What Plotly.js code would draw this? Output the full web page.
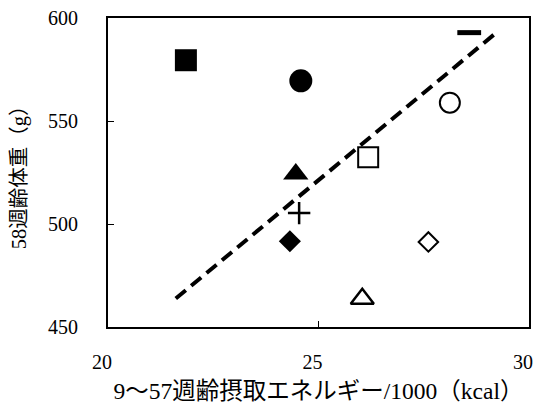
<!DOCTYPE html>
<html>
<head>
<meta charset="utf-8">
<script src="https://cdn.plot.ly/plotly-3.0.1.min.js"></script>
<style>html,body{margin:0;padding:0;background:#fff;}#chart{width:536px;height:405px;}</style>
</head>
<body>
<div id="chart"></div>
<script>
// Data points (x: intake energy / 1000 kcal, y: body weight at 58 weeks, g)
const xValues = [21.85, 24.58, 24.46, 24.54, 24.32, 26.18, 26.04, 27.61, 28.12, 28.58];
const yValues = [579.5, 569.5, 524.3, 505.3, 491.6, 532.4, 463.7, 491.3, 558.9, 592.9];
const symbols = ['square', 'circle', 'triangle-up', 'cross-thin-open', 'diamond',
                 'square-open', 'triangle-up-open', 'diamond-open', 'circle-open', 'line-ew-open'];
// Trend line endpoints
const trendX = [21.61, 29.23];
const trendY = [463.8, 593.0];
const xTicks = [20, 25, 30];
const yTicks = [450, 500, 550, 600];

const sizeMap = {
  'square': 22, 'circle': 23, 'triangle-up': 22, 'cross-thin-open': 16, 'diamond': 17,
  'square-open': 20, 'triangle-up-open': 20, 'diamond-open': 15, 'circle-open': 20, 'line-ew-open': 17
};
const lineMap = {
  'square': 0, 'circle': 0, 'triangle-up': 0, 'cross-thin-open': 2.5, 'diamond': 0,
  'square-open': 2, 'triangle-up-open': 2.5, 'diamond-open': 2, 'circle-open': 2, 'line-ew-open': 5
};

const traces = [{
  x: trendX, y: trendY, mode: 'lines', type: 'scatter',
  line: {color: '#000', width: 4, dash: '13px,7px'}, hoverinfo: 'skip'
}];
xValues.forEach((xv, i) => {
  traces.push({
    x: [xv], y: [yValues[i]], mode: 'markers', type: 'scatter',
    marker: {symbol: symbols[i], size: sizeMap[symbols[i]], color: '#000',
             line: {color: '#000', width: lineMap[symbols[i]]}}
  });
});

const fontFam = "'Liberation Serif', 'Noto Sans CJK JP', serif";
const layout = {
  width: 536, height: 405,
  margin: {l: 108, r: 7, t: 18, b: 78},
  paper_bgcolor: '#fff', plot_bgcolor: '#fff',
  showlegend: false,
  font: {family: fontFam, color: '#000', size: 20},
  xaxis: {
    range: [20, 30], tickvals: xTicks, ticktext: xTicks.map(String),
    showgrid: false, zeroline: false,
    showline: true, linecolor: '#000', linewidth: 2, mirror: true,
    ticks: 'inside', ticklen: 6, tickwidth: 1, tickcolor: '#000',
    ticklabelstandoff: 16, ticklabelshift: -6, ticklabeloverflow: 'allow',
    tickfont: {family: fontFam, size: 20, color: '#000'},
    title: {text: '9～57週齢摂取エネルギー/1000（kcal）', standoff: 11,
            font: {family: fontFam, size: 23.5, color: '#000'}}
  },
  yaxis: {
    range: [450, 600], tickvals: yTicks, ticktext: yTicks.map(String),
    showgrid: false, zeroline: false,
    showline: true, linecolor: '#000', linewidth: 2, mirror: true,
    ticks: 'inside', ticklen: 6, tickwidth: 1, tickcolor: '#000',
    ticklabelstandoff: 24,
    tickfont: {family: fontFam, size: 20, color: '#000'},
    title: {text: '58週齢体重（g）', standoff: 16,
            font: {family: fontFam, size: 20.5, color: '#000'}}
  }
};

Plotly.newPlot('chart', traces, layout, {staticPlot: true, displayModeBar: false});
</script>
</body>
</html>
